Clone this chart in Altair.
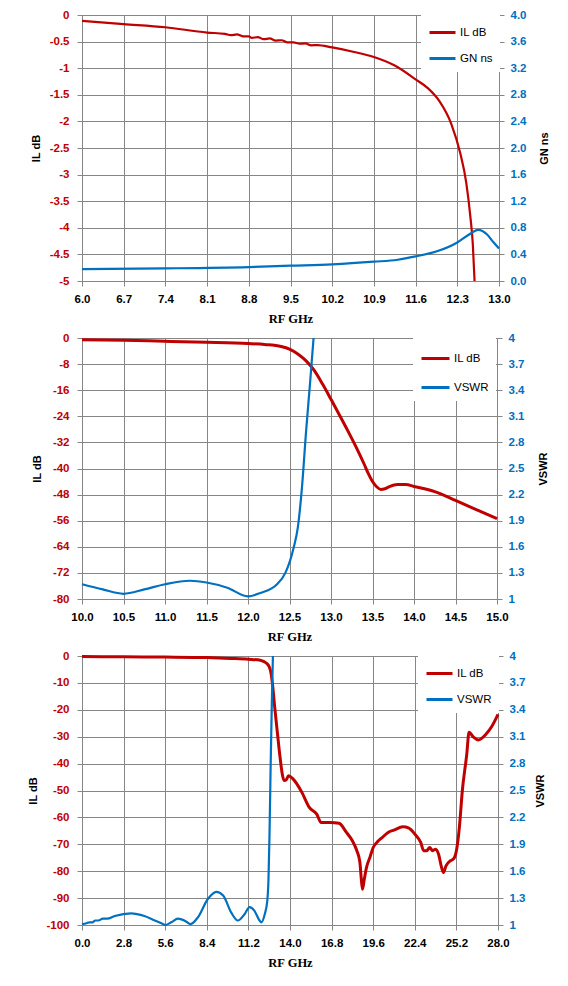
import altair as alt
import pandas as pd

RED = "#C00000"
BLUE = "#0070C0"
GRID = "#868686"

# ---------------- Panel 1 : 6-13 GHz, IL dB and GN ns ----------------
P1_IL_FREQ = [6.0, 6.7, 7.4, 8.1, 8.4, 8.5, 8.6, 8.7, 8.8, 8.85, 8.95, 9.05, 9.15,
              9.25, 9.35, 9.45, 9.55, 9.65, 9.75, 9.85, 9.95, 10.2, 10.55, 10.9,
              11.25, 11.6, 11.8, 12.0, 12.2, 12.35, 12.45, 12.52, 12.56, 12.59]
P1_IL_DB = [-0.11, -0.17, -0.23, -0.33, -0.355, -0.38, -0.365, -0.40, -0.40, -0.43,
            -0.415, -0.455, -0.44, -0.48, -0.475, -0.515, -0.515, -0.54, -0.535, -0.57,
            -0.565, -0.61, -0.69, -0.79, -0.95, -1.21, -1.37, -1.62, -2.05, -2.6,
            -3.15, -3.8, -4.3, -5.0]
P1_GN_FREQ = [6.0, 7.4, 8.8, 9.5, 10.2, 10.9, 11.3, 11.6, 11.97, 12.3, 12.5, 12.65,
              12.8, 12.9, 13.0]
P1_GN_NS = [0.18, 0.19, 0.21, 0.23, 0.25, 0.29, 0.32, 0.37, 0.45, 0.58, 0.70, 0.77,
            0.70, 0.59, 0.49]
P1_X_TICKS = [6.0, 6.7, 7.4, 8.1, 8.8, 9.5, 10.2, 10.9, 11.6, 12.3, 13.0]
P1_L_TICKS = [0, -0.5, -1, -1.5, -2, -2.5, -3, -3.5, -4, -4.5, -5]
P1_R_TICKS = [0.0, 0.4, 0.8, 1.2, 1.6, 2.0, 2.4, 2.8, 3.2, 3.6, 4.0]

# ---------------- Panel 2 : 10-15 GHz, IL dB and VSWR ----------------
P2_IL_FREQ = [10.0, 10.5, 11.0, 11.5, 12.0, 12.2, 12.4, 12.5, 12.6, 12.7, 12.8, 12.9,
              13.0, 13.1, 13.2, 13.3, 13.4, 13.45, 13.5, 13.55, 13.6, 13.65, 13.7,
              13.8, 13.9, 14.0, 14.25, 14.5, 14.75, 15.0]
P2_IL_DB = [-0.5, -0.7, -1.0, -1.3, -1.7, -2.0, -2.6, -3.4, -4.9, -7.0, -10.0, -14.2,
            -18.8, -23.5, -28.3, -33.3, -38.7, -41.6, -44.0, -45.6, -46.4, -46.2,
            -45.6, -44.9, -44.9, -45.5, -47.1, -49.8, -52.6, -55.4]
P2_VSWR_FREQ = [10.0, 10.25, 10.5, 10.75, 11.0, 11.3, 11.5, 11.75, 12.0, 12.15, 12.35,
                12.45, 12.55, 12.6, 12.65, 12.7, 12.75, 12.79]
P2_VSWR = [1.17, 1.11, 1.06, 1.11, 1.17, 1.21, 1.19, 1.13, 1.03, 1.07, 1.17, 1.30,
           1.59, 1.82, 2.28, 2.93, 3.51, 4.0]
P2_X_TICKS = [10.0, 10.5, 11.0, 11.5, 12.0, 12.5, 13.0, 13.5, 14.0, 14.5, 15.0]
P2_L_TICKS = [0, -8, -16, -24, -32, -40, -48, -56, -64, -72, -80]
P2_R_TICKS = [1, 1.3, 1.6, 1.9, 2.2, 2.5, 2.8, 3.1, 3.4, 3.7, 4]

# ---------------- Panel 3 : 0-28 GHz, IL dB and VSWR ----------------
P3_IL_FREQ = [0.0, 2.8, 5.6, 8.4, 10.0, 11.2, 12.0, 12.4, 12.6, 12.73, 12.85, 12.97,
              13.16, 13.33, 13.48, 13.6, 13.75, 13.9, 14.2, 14.8, 15.3, 15.8, 16.1,
              16.7, 17.3, 17.8, 18.2, 18.5, 18.7, 18.8, 18.88, 19.0, 19.15, 19.4,
              19.6, 19.9, 20.2, 20.6, 21.0, 21.6, 22.0, 22.4, 22.8, 23.0, 23.2, 23.4,
              23.6, 23.8, 24.0, 24.2, 24.33, 24.5, 24.8, 25.0, 25.2, 25.4, 25.6, 25.9,
              26.05, 26.35, 26.67, 27.2, 27.6, 28.0]
P3_IL_DB = [-0.2, -0.3, -0.4, -0.6, -0.9, -1.2, -1.6, -2.6, -4.0, -6.6, -12.0, -19.0,
            -29.0, -37.6, -43.9, -46.3, -46.0, -44.5, -45.7, -50.7, -56.3, -58.8,
            -61.9, -61.9, -62.2, -65.6, -68.7, -72.4, -76.5, -83.0, -86.7, -83.0,
            -78.6, -74.5, -71.2, -69.0, -67.5, -65.6, -64.7, -63.5, -64.0, -66.2,
            -69.3, -72.4, -72.4, -71.2, -72.4, -71.8, -73.7, -78.6, -80.5, -78.0,
            -76.1, -75.5, -72.4, -63.7, -50.0, -36.4, -28.3, -30.2, -31.2, -29.0,
            -26.0, -21.7]
P3_VSWR_FREQ = [0.0, 0.3, 0.5, 0.7, 0.9, 1.1, 1.4, 1.7, 2.2, 3.3, 4.2, 4.9, 5.45, 5.6,
                6.0, 6.46, 7.0, 7.3, 7.8, 8.47, 9.04, 9.5, 10.04, 10.49, 10.94, 11.28,
                11.6, 11.95, 12.07, 12.3, 12.47, 12.55, 12.62, 12.7, 12.78, 12.85]
P3_VSWR = [1.01, 1.02, 1.03, 1.03, 1.05, 1.05, 1.07, 1.07, 1.10, 1.13, 1.10, 1.05,
           1.01, 1.0, 1.03, 1.07, 1.04, 1.01, 1.085, 1.29, 1.37, 1.33, 1.14, 1.05,
           1.12, 1.20, 1.16, 1.05, 1.03, 1.12, 1.27, 1.5, 2.0, 2.8, 3.5, 4.0]
P3_X_TICKS = [0.0, 2.8, 5.6, 8.4, 11.2, 14.0, 16.8, 19.6, 22.4, 25.2, 28.0]
P3_L_TICKS = [0, -10, -20, -30, -40, -50, -60, -70, -80, -90, -100]
P3_R_TICKS = [1, 1.3, 1.6, 1.9, 2.2, 2.5, 2.8, 3.1, 3.4, 3.7, 4]


def make_df(freq, vals, series):
    return pd.DataFrame({"f": freq, "v": vals, "s": [series] * len(freq)})


def panel(il_f, il_v, r_f, r_v, rname, xticks, lticks, rticks, rfmt_expr,
          w, h, lx, ly, row_pad, sym_len, ltx, rtx, red_w, blue_w):
    xdom = [xticks[0], xticks[-1]]
    xenc = alt.X(
        "f:Q",
        scale=alt.Scale(domain=xdom, nice=False, zero=False),
        axis=alt.Axis(values=xticks, format=".1f", title="RF GHz",
                      labelFlush=False, labelOverlap=False, labelPadding=7,
                      labelColor="black", grid=True,
                      titleFont="Liberation Serif", titleFontWeight="bold",
                      titleFontSize=12.5, titleColor="black",
                      titleX=w / 2, titleY=37, titleBaseline="middle",
                      titleAlign="center"),
    )
    cscale = alt.Scale(domain=["IL dB", rname], range=[RED, BLUE])
    leg = alt.Legend(title=None, orient="none", legendX=lx, legendY=ly,
                     fillColor="white", padding=7, symbolType="stroke",
                     symbolStrokeWidth=3, symbolSize=sym_len * sym_len,
                     labelFont="Liberation Sans", labelFontSize=11.5,
                     labelColor="black", labelFontWeight="normal",
                     rowPadding=row_pad, labelOffset=3)
    red = alt.Chart(make_df(il_f, il_v, "IL dB")).mark_line(
        strokeWidth=red_w, interpolate="monotone").encode(
        x=xenc,
        y=alt.Y("v:Q",
                scale=alt.Scale(domain=[lticks[-1], lticks[0]], nice=False, zero=False),
                axis=alt.Axis(orient="left", values=lticks,
                              labelExpr="'' + datum.value", labelColor=RED,
                              labelPadding=8, grid=True, title="IL dB",
                              titleColor="black", titleFont="Liberation Sans",
                              titleFontWeight="bold", titleFontSize=11,
                              titleAngle=270, titleX=ltx, titleY=h / 2,
                              titleBaseline="middle", titleAlign="center")),
        color=alt.Color("s:N", scale=cscale, legend=leg),
    )
    blue = alt.Chart(make_df(r_f, r_v, rname)).mark_line(
        strokeWidth=blue_w, interpolate="monotone").encode(
        x=xenc,
        y=alt.Y("v:Q",
                scale=alt.Scale(domain=[rticks[0], rticks[-1]], nice=False, zero=False),
                axis=alt.Axis(orient="right", values=rticks,
                              labelExpr=rfmt_expr, labelColor=BLUE,
                              labelPadding=6, grid=False, title=rname,
                              titleColor="black", titleFont="Liberation Sans",
                              titleFontWeight="bold", titleFontSize=11,
                              titleAngle=270, titleX=rtx, titleY=h / 2,
                              titleBaseline="middle", titleAlign="center")),
        color=alt.Color("s:N", scale=cscale, legend=leg),
    )
    return alt.layer(red, blue).resolve_scale(y="independent").properties(
        width=w, height=h)


p1 = panel(P1_IL_FREQ, P1_IL_DB, P1_GN_FREQ, P1_GN_NS, "GN ns",
           P1_X_TICKS, P1_L_TICKS, P1_R_TICKS, "format(datum.value, '.1f')",
           417, 266, 339, -4, 5, 26, -46, 45, 2.2, 2.2)
p2 = panel(P2_IL_FREQ, P2_IL_DB, P2_VSWR_FREQ, P2_VSWR, "VSWR",
           P2_X_TICKS, P2_L_TICKS, P2_R_TICKS, "'' + datum.value",
           415, 261, 331, -2, 7, 28, -45, 46, 3.0, 2.2)
p3 = panel(P3_IL_FREQ, P3_IL_DB, P3_VSWR_FREQ, P3_VSWR, "VSWR",
           P3_X_TICKS, P3_L_TICKS, P3_R_TICKS, "'' + datum.value",
           416, 269, 336, -4, 5, 26, -49, 42, 3.0, 2.2)

chart = alt.vconcat(p1, p2, p3, spacing=57, bounds="flush").resolve_scale(
    color="independent"
).properties(
    padding={"left": 18, "top": 0, "right": 5, "bottom": 5},
    background="white",
).configure_axis(
    gridColor=GRID, gridWidth=1, domainColor=GRID, tickColor=GRID, tickSize=5,
    labelFont="Liberation Sans", labelFontWeight="bold", labelFontSize=11.5,
).configure_view(stroke=GRID)

chart.save("out.html", embed_options={"renderer": "svg", "actions": False})
